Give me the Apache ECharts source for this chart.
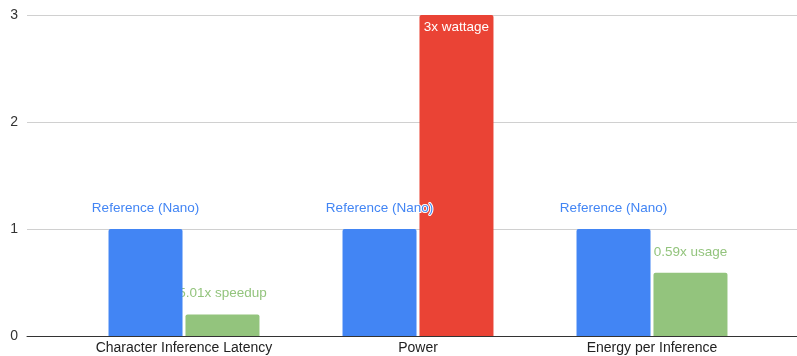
<!DOCTYPE html>
<html>
<head>
<meta charset="utf-8">
<script src="https://cdn.jsdelivr.net/npm/echarts@6/dist/echarts.min.js"></script>
<style>
  html, body { margin: 0; padding: 0; background: #fff; }
  #chart { width: 797px; height: 356px; }
</style>
</head>
<body>
<div id="chart"></div>
<script>
var chart = echarts.init(document.getElementById('chart'));

// 数据
var categories = ['Character Inference Latency', 'Power', 'Energy per Inference'];
var referenceValues = [1, 1, 1];
var referenceLabels = ['Reference (Nano)', 'Reference (Nano)', 'Reference (Nano)'];
var comparisonValues = [0.2, 3, 0.59];
var comparisonLabels = ['5.01x speedup', '3x wattage', '0.59x usage'];
var yTicks = [0, 1, 2, 3];

// 样式
var BLUE = '#4285f4';
var GREEN = '#93c47d';
var RED = '#ea4335';
var FONT = 'Liberation Sans, Arial, sans-serif';

// 超过参考值的柱子用红色，标签放在柱内
function comparisonItem(v, i) {
    var over = v > referenceValues[i];
    return {
        value: v,
        itemStyle: { color: over ? RED : GREEN },
        label: over ? {
            position: 'insideTop',
            distance: 5,
            color: '#fff',
            textBorderWidth: 0
        } : {}
    };
}

var option = {
    animation: false,
    textStyle: { fontFamily: FONT },
    grid: [
        { left: 27, right: 0, top: 15, bottom: 20 },
        { left: 67, right: 28, top: 15, bottom: 20 }
    ],
    xAxis: [
        {
            gridIndex: 0,
            type: 'category',
            data: [''],
            axisLine: { show: true, lineStyle: { color: '#333', width: 1 } },
            axisTick: { show: false },
            axisLabel: { show: false }
        },
        {
            gridIndex: 1,
            type: 'category',
            data: categories,
            axisLine: { show: false },
            axisTick: { show: false },
            axisLabel: { color: '#222', fontSize: 14, margin: 5, fontFamily: FONT }
        }
    ],
    yAxis: [
        {
            gridIndex: 0,
            type: 'value',
            min: yTicks[0],
            max: yTicks[yTicks.length - 1],
            interval: 1,
            axisLine: { show: false },
            axisTick: { show: false },
            axisLabel: { color: '#333', fontSize: 14, margin: 9, fontFamily: FONT },
            splitLine: { lineStyle: { color: '#d0d0d0', width: 1 } }
        },
        {
            gridIndex: 1,
            type: 'value',
            min: yTicks[0],
            max: yTicks[yTicks.length - 1],
            interval: 1,
            show: false,
            splitLine: { show: false }
        }
    ],
    series: [
        {
            name: 'Reference',
            type: 'bar',
            xAxisIndex: 1,
            yAxisIndex: 1,
            data: referenceValues,
            barWidth: 74,
            barGap: '4%',
            itemStyle: { color: BLUE, borderRadius: [2, 2, 0, 0] },
            label: {
                show: true,
                position: 'top',
                distance: 14,
                color: BLUE,
                fontSize: 13.5,
                fontFamily: FONT,
                textBorderColor: '#fff',
                textBorderWidth: 2,
                formatter: function (p) { return referenceLabels[p.dataIndex]; }
            },
            z: 2
        },
        {
            name: 'Comparison',
            type: 'bar',
            xAxisIndex: 1,
            yAxisIndex: 1,
            data: comparisonValues.map(comparisonItem),
            barWidth: 74,
            barGap: '4%',
            itemStyle: { borderRadius: [2, 2, 0, 0] },
            label: {
                show: true,
                position: 'top',
                distance: 14,
                color: GREEN,
                fontSize: 13.5,
                fontFamily: FONT,
                textBorderColor: '#fff',
                textBorderWidth: 2,
                formatter: function (p) { return comparisonLabels[p.dataIndex]; }
            },
            z: 1
        }
    ]
};

chart.setOption(option);
</script>
</body>
</html>
